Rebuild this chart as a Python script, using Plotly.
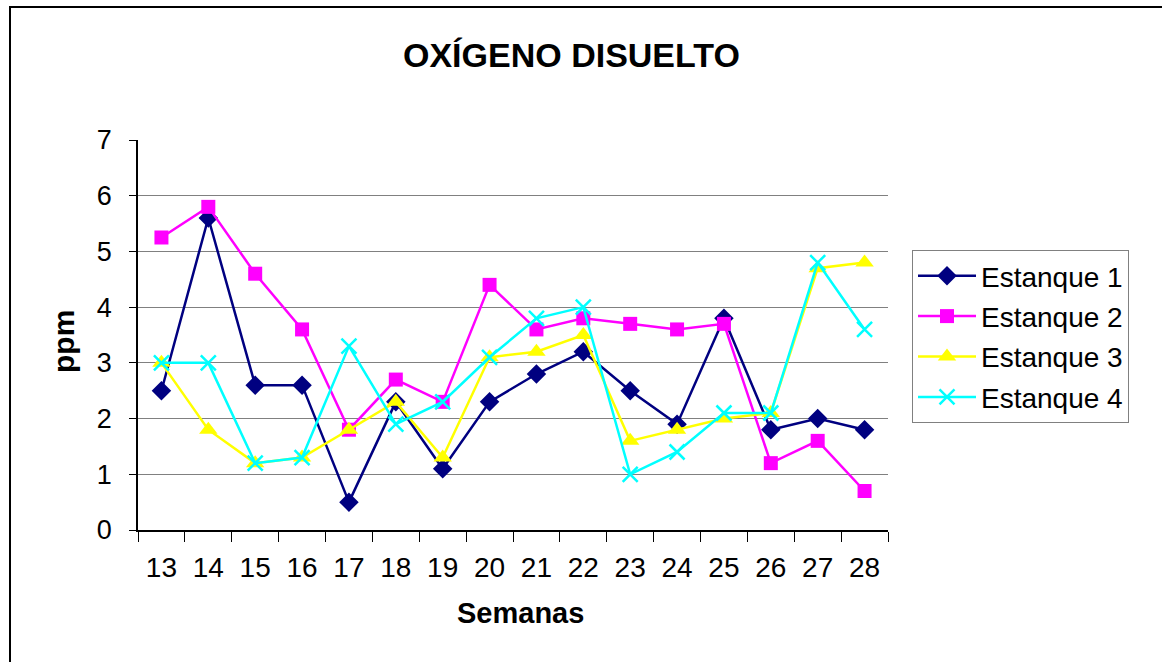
import plotly.graph_objects as go

semanas = ["13", "14", "15", "16", "17", "18", "19", "20", "21", "22", "23", "24", "25", "26", "27", "28"]
estanque1 = [2.5, 5.6, 2.6, 2.6, 0.5, 2.3, 1.1, 2.3, 2.8, 3.2, 2.5, 1.9, 3.8, 1.8, 2.0, 1.8]
estanque2 = [5.25, 5.8, 4.6, 3.6, 1.8, 2.7, 2.3, 4.4, 3.6, 3.8, 3.7, 3.6, 3.7, 1.2, 1.6, 0.7]
estanque3 = [3.0, 1.8, 1.2, 1.3, 1.8, 2.3, 1.3, 3.1, 3.2, 3.5, 1.6, 1.8, 2.0, 2.1, 4.7, 4.8]
estanque4 = [3.0, 3.0, 1.2, 1.3, 3.3, 1.9, 2.3, 3.1, 3.8, 4.0, 1.0, 1.4, 2.1, 2.1, 4.8, 3.6]

FONT = "Arial, Liberation Sans, sans-serif"

series = [
    ("Estanque 1", estanque1, "#000080", dict(symbol="diamond", size=15)),
    ("Estanque 2", estanque2, "#FF00FF", dict(symbol="square", size=14)),
    ("Estanque 3", estanque3, "#FFFF00", dict(symbol="triangle-up", size=16)),
    ("Estanque 4", estanque4, "#00FFFF", dict(symbol="x-thin", size=15)),
]

fig = go.Figure()
for i, (name, vals, color, mk) in enumerate(series):
    marker = dict(color=color, **mk)
    if mk["symbol"] == "x-thin":
        marker["line"] = dict(color=color, width=2.5)
    fig.add_trace(go.Scatter(
        x=semanas, y=vals, name=name, mode="lines+markers",
        line=dict(color=color, width=2.5), marker=marker,
        legendgroup="g%d" % i,
    ))

L, R, T, B = 138, 888, 140, 530
W, H = 1162, 662
pw, ph = R - L, B - T

def px_x(p):
    return (p - L) / pw

def px_y(p):
    return (B - p) / ph

fig.update_layout(
    width=W, height=H,
    margin=dict(l=L, r=W - R, t=T, b=H - B, pad=0),
    paper_bgcolor="white", plot_bgcolor="white",
    font=dict(family=FONT, color="black", size=26),
    showlegend=True,
    legend=dict(
        x=px_x(912), y=px_y(250), xanchor="left", yanchor="top",
        bordercolor="#808080", borderwidth=1, bgcolor="white",
        font=dict(family=FONT, size=28, color="black"),
        tracegroupgap=1, itemwidth=58,
    ),
    xaxis=dict(
        type="category", range=[-0.5, 15.5],
        showline=True, linecolor="black", linewidth=1.5,
        ticks="outside", tickson="boundaries", ticklen=10, tickcolor="black", tickwidth=1,
        ticklabelstandoff=12,
        showgrid=False, zeroline=False,
        tickfont=dict(family=FONT, size=28),
    ),
    yaxis=dict(
        range=[0, 7], dtick=1, tick0=0,
        showline=True, linecolor="black", linewidth=1.5,
        ticks="outside", ticklen=7, tickcolor="black",
        ticklabelstandoff=12,
        showgrid=True, gridcolor="#808080", gridwidth=1,
        zeroline=False,
        tickfont=dict(family=FONT, size=27),
    ),
    annotations=[
        dict(text="<b>OXÍGENO DISUELTO</b>", x=px_x(571), y=px_y(55), xref="paper", yref="paper",
             showarrow=False, font=dict(family=FONT, size=34), xanchor="center", yanchor="middle"),
        dict(text="<b>Semanas</b>", x=px_x(520), y=px_y(613), xref="paper", yref="paper",
             showarrow=False, font=dict(family=FONT, size=29), xanchor="center", yanchor="middle"),
        dict(text="<b>ppm</b>", x=px_x(63), y=px_y(342), xref="paper", yref="paper",
             showarrow=False, textangle=-90, font=dict(family=FONT, size=30),
             xanchor="center", yanchor="middle"),
    ],
    shapes=[
        dict(type="rect", xref="paper", yref="paper",
             x0=px_x(10), x1=px_x(1175), y0=px_y(7), y1=px_y(680),
             line=dict(color="black", width=2), fillcolor="rgba(0,0,0,0)", layer="below"),
    ],
)

fig.write_html("out.html", post_script="document.body.style.margin='0px';",
               config={"displayModeBar": False})
